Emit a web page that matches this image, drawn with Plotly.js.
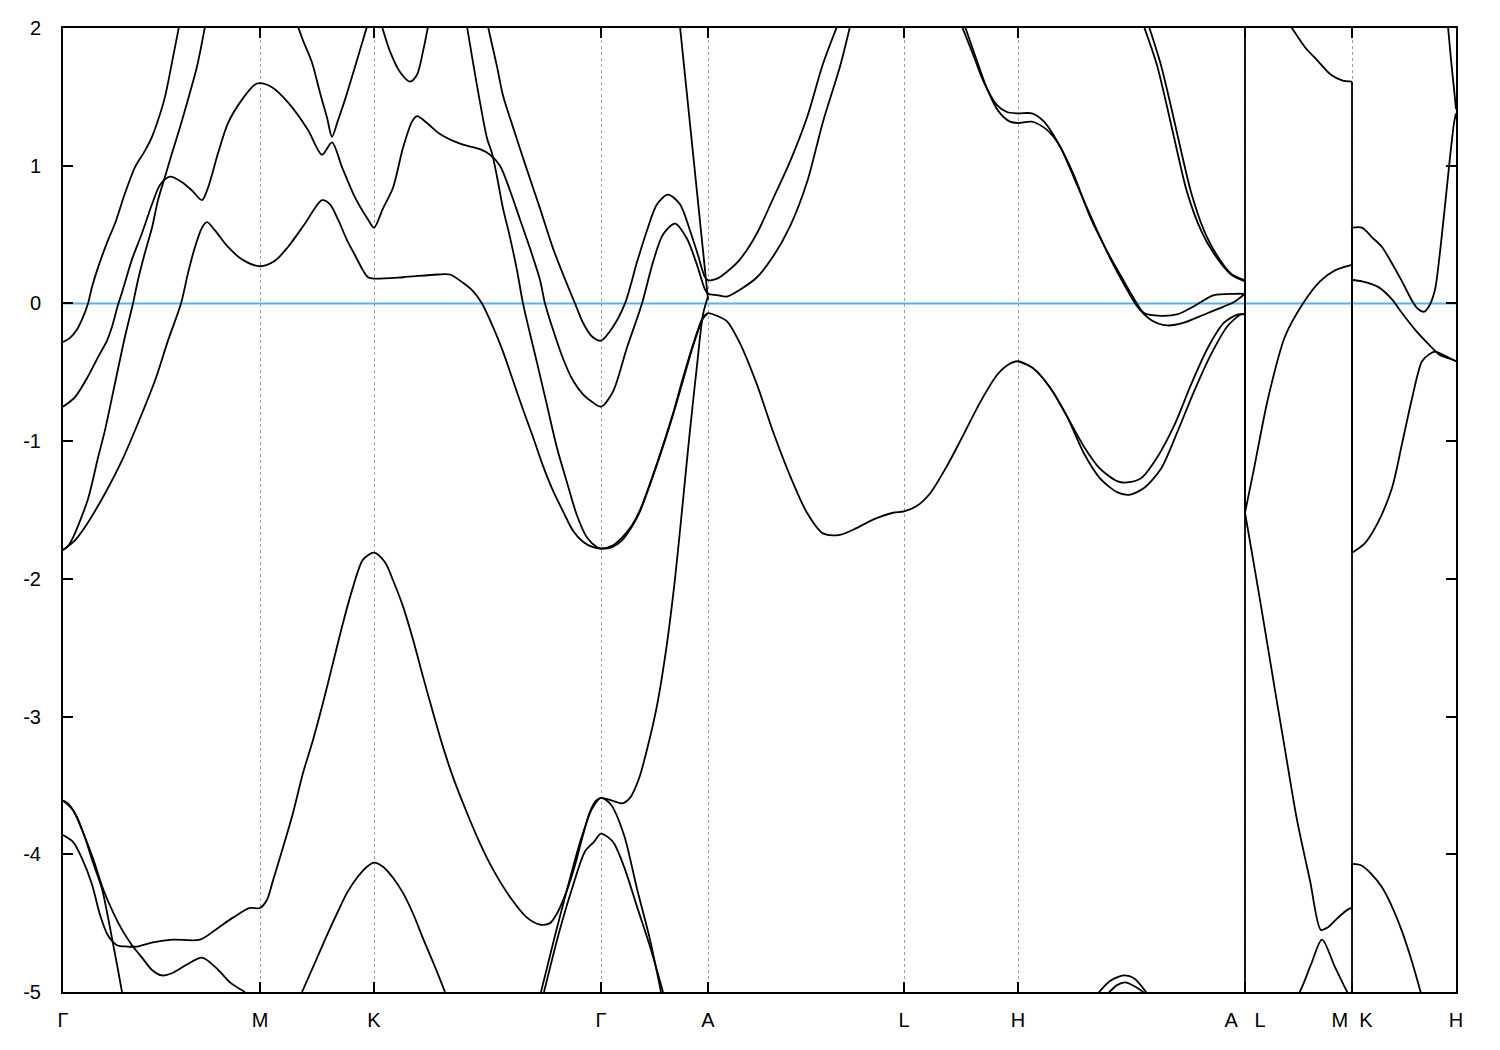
<!DOCTYPE html>
<html>
<head>
<meta charset="utf-8">
<script src="https://cdn.plot.ly/plotly-3.0.1.min.js"></script>
<style>html,body{margin:0;padding:0;background:#fff;}#chart{width:1500px;height:1050px;}</style>
</head>
<body>
<div id="chart"></div>
<script>
// High-symmetry points along the k-path
const kTicks = [0, 1.97, 3.11, 5.38, 6.45, 8.41, 9.55, 11.82, 12.89, 13.93];
const kLabels = ['Γ', 'M', 'K', 'Γ', 'A', 'L', 'H', 'A\u00a0\u00a0\u00a0L', 'M\u00a0\u00a0K', 'H'];
const eTicks = [-5, -4, -3, -2, -1, 0, 1, 2];
const eLabels = ['-5', '-4', '-3', '-2', '-1', '0', '1', '2'];
const fermiLevel = 0;

// Bands (k, E in eV)
const kA = [0,0.07,0.14,0.20,0.25,0.29,0.35,0.45,0.52,0.62,0.72,0.82,0.89,0.95,1.02,1.09,1.16];
const eA = [-0.28,-0.25,-0.19,-0.10,0.00,0.12,0.26,0.46,0.58,0.80,0.99,1.11,1.21,1.33,1.50,1.75,2.01];

const kB = [0,0.12,0.25,0.35,0.44,0.49,0.55,0.59,0.69,0.79,0.89,0.97,1.07,1.19,1.29,1.39,1.45,1.55,1.65,1.79,1.92,1.97,
  2.09,2.25,2.45,2.59,2.69,2.79,2.92,3.05,3.11,
  3.20,3.30,3.40,3.49,3.54,3.64,3.77,3.97,4.17,4.27,4.37,4.47,4.57,4.67,4.77,4.82,4.90,5.00,5.10,5.20,5.30,5.38,
  5.50,5.64,5.79,5.90,6.00,6.12,6.24,6.34,6.42,6.45,
  6.54,6.64,6.77,6.94,7.10,7.27,7.44,7.60,7.77,7.87];
const eB = [-0.75,-0.68,-0.53,-0.39,-0.27,-0.17,-0.01,0.08,0.32,0.51,0.72,0.86,0.92,0.88,0.82,0.75,0.84,1.09,1.31,1.48,1.59,1.60,
  1.57,1.46,1.26,1.08,1.17,0.99,0.77,0.61,0.55,
  0.69,0.84,1.13,1.32,1.36,1.31,1.23,1.16,1.12,1.08,1.00,0.82,0.61,0.40,0.17,0.00,-0.19,-0.40,-0.56,-0.66,-0.72,-0.75,
  -0.64,-0.32,0.00,0.30,0.50,0.58,0.47,0.28,0.10,0.07,
  0.06,0.05,0.10,0.19,0.34,0.56,0.88,1.32,1.72,2.01];

const kC = [0,0.04,0.10,0.25,0.35,0.42,0.52,0.62,0.70,0.75,0.82,0.89,0.95,1.02,1.09,1.17,1.25,1.34,1.42];
const eC = [-1.79,-1.77,-1.70,-1.42,-1.12,-0.92,-0.58,-0.24,0.00,0.17,0.37,0.55,0.75,0.92,1.09,1.28,1.48,1.72,2.01];

const kD = [0,0.12,0.25,0.42,0.59,0.75,0.92,1.05,1.18,1.25,1.32,1.39,1.44,1.52,1.65,1.79,1.97,
  2.12,2.25,2.42,2.59,2.67,2.75,2.84,2.92,3.00,3.05,3.11,
  3.40,3.74,3.87,4.00,4.10,4.19,4.30,4.40,4.50,4.60,4.70,4.80,4.90,5.00,5.10,5.20,5.30,5.38,
  5.49,5.59,5.69,5.77,5.94,6.10,6.20,6.30,6.40,6.45,
  6.54,6.64,6.77,6.94,7.10,7.27,7.44,7.60,7.77,7.94,8.10,8.30,8.41,
  8.54,8.67,8.84,9.00,9.17,9.34,9.44,9.55,
  9.70,9.87,10.04,10.21,10.37,10.54,10.64,10.78,10.94,11.11,11.28,11.45,11.61,11.75,11.82];
const eD = [-1.79,-1.72,-1.59,-1.38,-1.14,-0.87,-0.56,-0.27,0.00,0.22,0.41,0.55,0.59,0.53,0.41,0.32,0.27,
  0.31,0.41,0.58,0.75,0.72,0.61,0.46,0.35,0.24,0.19,0.18,
  0.19,0.21,0.21,0.15,0.09,0.00,-0.17,-0.35,-0.56,-0.77,-0.97,-1.18,-1.36,-1.51,-1.65,-1.73,-1.77,-1.78,
  -1.76,-1.70,-1.61,-1.50,-1.16,-0.80,-0.54,-0.30,-0.10,-0.07,
  -0.09,-0.13,-0.29,-0.59,-0.93,-1.25,-1.52,-1.67,-1.68,-1.63,-1.57,-1.52,-1.51,
  -1.47,-1.38,-1.18,-0.96,-0.72,-0.52,-0.45,-0.42,
  -0.47,-0.61,-0.82,-1.04,-1.20,-1.29,-1.30,-1.27,-1.12,-0.89,-0.59,-0.32,-0.14,-0.08,-0.08];

const kHA2 = [9.55,9.70,9.87,10.04,10.21,10.37,10.54,10.66,10.81,10.98,11.14,11.31,11.48,11.65,11.78,11.82];
const eHA2 = [-0.42,-0.47,-0.61,-0.82,-1.09,-1.27,-1.37,-1.39,-1.34,-1.20,-0.94,-0.64,-0.37,-0.16,-0.08,-0.08];

const kL1 = [4.04,4.10,4.17,4.24,4.29,4.34,4.40,4.47,4.54,4.60,4.67,4.74,4.84,4.94,5.04,5.14,5.24,5.34,5.38,
  5.49,5.59,5.69,5.77,5.94,6.10,6.20,6.30,6.40,6.45];
const eL1 = [2.01,1.75,1.46,1.20,1.09,0.92,0.69,0.48,0.24,0.00,-0.22,-0.43,-0.74,-1.05,-1.30,-1.54,-1.70,-1.77,-1.78,
  -1.77,-1.72,-1.62,-1.51,-1.17,-0.81,-0.56,-0.31,-0.11,-0.07];

const kL2 = [4.25,4.34,4.40,4.50,4.64,4.77,4.90,5.04,5.12,5.20,5.29,5.38,
  5.50,5.62,5.74,5.84,5.94,6.05,6.17,6.27,6.35,6.42,6.45,
  6.54,6.64,6.77,6.94,7.10,7.27,7.44,7.60,7.74];
const eL2 = [2.01,1.72,1.51,1.28,0.97,0.69,0.40,0.14,0.00,-0.14,-0.24,-0.27,
  -0.17,0.00,0.30,0.53,0.72,0.79,0.72,0.53,0.35,0.19,0.17,
  0.18,0.23,0.32,0.51,0.76,1.03,1.35,1.74,2.01];

const kE = [2.35,2.40,2.49,2.57,2.64,2.69,2.75,2.82,2.90,2.97,3.04];
const eE = [2.01,1.91,1.75,1.53,1.35,1.21,1.33,1.48,1.67,1.84,2.01];

const kF = [3.19,3.27,3.37,3.47,3.54,3.60,3.65];
const eF = [2.01,1.83,1.68,1.61,1.66,1.83,2.01];

const kG1 = [0,0.10,0.19,0.29,0.37,0.45,0.54,0.64,0.74,0.90,1.10,1.37,1.54,1.70,1.87,1.97,
  2.04,2.10,2.20,2.30,2.40,2.50,2.60,2.70,2.80,2.90,3.00,3.11,
  3.22,3.30,3.40,3.50,3.60,3.70,3.80,3.90,4.04,4.17,4.30,4.47,4.64,4.77,4.87,4.94,5.04,5.12,5.20,5.27,5.33,5.38,
  5.49,5.59,5.67,5.76,5.85,5.94,6.03,6.12,6.20,6.27,6.34,6.40,6.45];
const eG1 = [-3.86,-3.91,-4.03,-4.22,-4.44,-4.59,-4.66,-4.67,-4.67,-4.64,-4.62,-4.62,-4.54,-4.46,-4.39,-4.39,
  -4.33,-4.19,-3.95,-3.70,-3.41,-3.17,-2.90,-2.61,-2.32,-2.06,-1.86,-1.81,
  -1.88,-2.01,-2.20,-2.44,-2.71,-2.97,-3.22,-3.44,-3.70,-3.92,-4.11,-4.31,-4.46,-4.51,-4.50,-4.43,-4.26,-4.08,-3.86,-3.69,-3.61,-3.59,
  -3.61,-3.63,-3.59,-3.45,-3.21,-2.92,-2.52,-2.00,-1.43,-0.92,-0.45,-0.08,0.05];

const kG2 = [0,0.10,0.20,0.30,0.40,0.50,0.60,0.69,0.79,0.89,0.99,1.10,1.24,1.39,1.54,1.67,1.82];
const eG2 = [-3.61,-3.68,-3.84,-4.03,-4.25,-4.42,-4.56,-4.66,-4.75,-4.84,-4.88,-4.86,-4.80,-4.75,-4.83,-4.93,-5.00];

const kG3 = [0,0.05,0.14,0.22,0.30,0.39,0.44,0.49,0.54,0.59];
const eG3 = [-3.61,-3.63,-3.73,-3.88,-4.06,-4.25,-4.42,-4.61,-4.80,-5.00];

const kKL = [2.39,2.50,2.62,2.74,2.84,2.94,3.04,3.11,3.20,3.30,3.40,3.50,3.60,3.71,3.82];
const eKL = [-5.00,-4.82,-4.62,-4.43,-4.28,-4.17,-4.09,-4.06,-4.09,-4.17,-4.28,-4.43,-4.61,-4.80,-5.00];

const kH1 = [4.78,4.92,5.05,5.18,5.29,5.38,5.48,5.61,5.74,5.87,5.98];
const eH1 = [-5.00,-4.59,-4.23,-3.89,-3.67,-3.59,-3.64,-3.86,-4.25,-4.62,-5.00];

const kH2 = [4.81,4.96,5.09,5.22,5.31,5.38,5.50,5.61,5.74,5.87,6.00];
const eH2 = [-5.00,-4.57,-4.25,-3.98,-3.91,-3.85,-3.91,-4.09,-4.38,-4.67,-5.00];

const kS = [6.17,6.31,6.45];
const eS = [2.01,1.02,0.03];

const kLH1 = [8.99,9.10,9.20,9.34,9.44,9.55,
  9.69,9.81,9.94,10.11,10.27,10.44,10.61,10.73,10.81,10.98,11.14,11.31,11.51,11.71,11.82,
  11.82,12.05,12.28,12.42,12.55,12.68,12.79,12.89,
  12.89,12.99,13.15,13.29,13.39,13.52,13.66,13.76,13.86,13.93];
const eLH1 = [2.01,1.81,1.62,1.44,1.39,1.38,
  1.38,1.32,1.18,0.93,0.63,0.38,0.16,0.01,-0.07,-0.09,-0.08,-0.02,0.06,0.07,0.07,
  2.50,2.26,2.01,1.86,1.76,1.66,1.62,1.61,
  0.17,0.16,0.12,0.03,-0.07,-0.19,-0.30,-0.37,-0.40,-0.42];

const kLH2 = [9.02,9.14,9.24,9.35,9.47,9.55,
  9.69,9.84,9.97,10.14,10.31,10.47,10.64,10.74,10.88,11.04,11.21,11.38,11.55,11.71,11.82,
  11.82,11.91,12.05,12.22,12.40,12.57,12.72,12.89,
  12.89,13.02,13.15,13.29,13.39,13.49,13.59,13.66,13.72,13.82,13.93];
const eLH2 = [2.01,1.76,1.56,1.40,1.32,1.31,
  1.32,1.26,1.14,0.86,0.58,0.33,0.10,-0.02,-0.12,-0.16,-0.14,-0.09,-0.04,0.01,0.07,
  -1.52,-1.20,-0.69,-0.24,0.00,0.16,0.24,0.28,
  -1.81,-1.74,-1.59,-1.34,-1.02,-0.69,-0.42,-0.37,-0.35,-0.38,-0.42];

const kSA1 = [10.81,10.94,11.04,11.14,11.24,11.38,11.51,11.68,11.82,
  11.82,11.92,12.02,12.12,12.22,12.34,12.47,12.58,12.65,12.75,12.85,12.89,
  12.89,12.99,13.09,13.19,13.29,13.39,13.49,13.55,13.61,13.66,13.72,13.76,13.82,13.87,13.91,13.93];
const eSA1 = [2.01,1.73,1.43,1.11,0.81,0.53,0.36,0.21,0.16,
  -1.52,-1.94,-2.37,-2.81,-3.24,-3.75,-4.19,-4.55,-4.53,-4.46,-4.40,-4.39,
  0.55,0.55,0.48,0.41,0.29,0.16,0.02,-0.04,-0.06,-0.02,0.10,0.31,0.71,1.06,1.31,1.38];

const kSA2 = [10.86,10.98,11.08,11.18,11.28,11.41,11.53,11.69,11.82,
  11.82,12.36,12.48,12.59,12.72,12.85,12.89,
  12.89,12.98,13.08,13.19,13.29,13.39,13.49,13.58];
const eSA2 = [2.01,1.73,1.43,1.11,0.81,0.53,0.36,0.21,0.17,
  -5.60,-5.01,-4.80,-4.62,-4.82,-5.01,-5.05,
  -4.07,-4.08,-4.14,-4.24,-4.38,-4.56,-4.78,-5.01];

const kTH = [13.85,13.88,13.91,13.93];
const eTH = [2.01,1.77,1.56,1.41];

const kArc1 = [10.35,10.47,10.61,10.71,10.84];
const eArc1 = [-5.01,-4.92,-4.88,-4.90,-5.01];
const kArc2 = [10.45,10.54,10.62,10.72,10.82];
const eArc2 = [-5.01,-4.95,-4.93,-4.96,-5.01];

const bands = [
  [kA,eA],[kB,eB],[kC,eC],[kD,eD],[kHA2,eHA2],[kL1,eL1],[kL2,eL2],[kE,eE],[kF,eF],
  [kG1,eG1],[kG2,eG2],[kG3,eG3],[kKL,eKL],[kH1,eH1],[kH2,eH2],[kS,eS],
  [kLH1,eLH1],[kLH2,eLH2],[kSA1,eSA1],[kSA2,eSA2],[kTH,eTH],[kArc1,eArc1],[kArc2,eArc2]
];

const lineStyle = {color: '#000000', width: 1.8};
const traces = [{
  x: [kTicks[0], kTicks[kTicks.length - 1]],
  y: [fermiLevel, fermiLevel],
  mode: 'lines',
  line: {color: '#56b4e9', width: 2},
  hoverinfo: 'skip'
}];

// Each band: smooth pieces between discontinuities, straight jumps at the discontinuities
bands.forEach(function (b) {
  const k = b[0], e = b[1];
  let start = 0;
  for (let i = 1; i <= k.length; i++) {
    if (i === k.length || k[i] === k[i - 1]) {
      traces.push({
        x: k.slice(start, i), y: e.slice(start, i), mode: 'lines',
        line: Object.assign({shape: 'spline', smoothing: 0.8}, lineStyle),
        hoverinfo: 'skip'
      });
      if (i < k.length) {
        traces.push({
          x: [k[i - 1], k[i]], y: [e[i - 1], e[i]], mode: 'lines',
          line: lineStyle, hoverinfo: 'skip'
        });
      }
      start = i;
    }
  }
});

const font = {family: 'Liberation Sans, Arial, sans-serif', size: 20, color: '#000'};
const layout = {
  width: 1500, height: 1050,
  margin: {l: 63, r: 44, t: 28, b: 58, pad: 0},
  paper_bgcolor: '#fff', plot_bgcolor: '#fff',
  showlegend: false,
  hovermode: false,
  font: font,
  xaxis: {
    range: [kTicks[0], kTicks[kTicks.length - 1]],
    tickmode: 'array', tickvals: kTicks, ticktext: kLabels,
    ticks: 'inside', ticklen: 10, tickwidth: 2, tickcolor: '#000',
    showline: true, linecolor: '#000', linewidth: 2, mirror: 'ticks',
    showgrid: true, gridcolor: '#a0a0a0', gridwidth: 1, griddash: '3px,3px',
    zeroline: false, tickfont: font, ticklabelstandoff: 9
  },
  yaxis: {
    range: [-5, 2],
    tickmode: 'array', tickvals: eTicks, ticktext: eLabels,
    ticks: 'inside', ticklen: 10, tickwidth: 2, tickcolor: '#000',
    showline: true, linecolor: '#000', linewidth: 2, mirror: 'ticks',
    showgrid: false, zeroline: false, tickfont: font, ticklabelstandoff: 16
  }
};
Plotly.newPlot('chart', traces, layout, {staticPlot: true, displayModeBar: false});
</script>
</body>
</html>
